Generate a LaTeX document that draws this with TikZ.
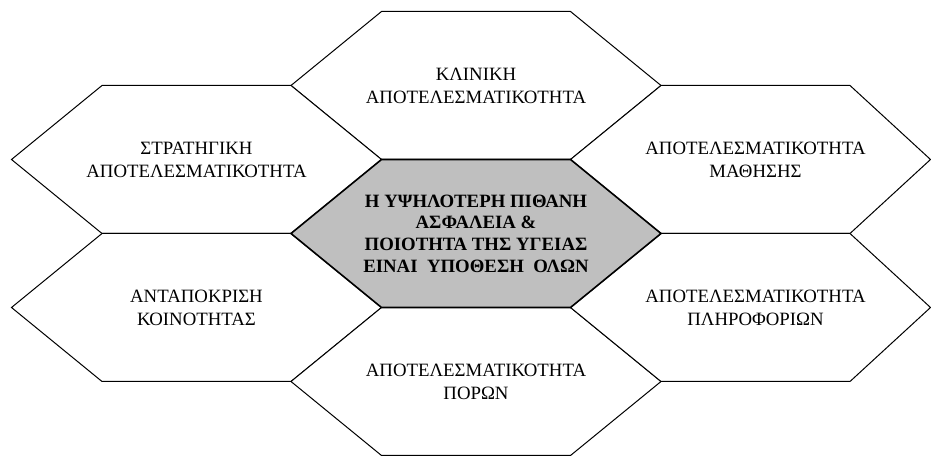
\documentclass[tikz,border=0pt]{standalone}
\usepackage{fontspec}
\setmainfont{Liberation Serif}
\usetikzlibrary{positioning, backgrounds}

\tikzset{
  pics/hex/.style={code={
    \path[pic actions] (-185pt,0) -- (-94.5pt,74pt) -- (94.5pt,74pt) -- (#1,0)
      -- (94.5pt,-74pt) -- (-94.5pt,-74pt) -- cycle;}}}

\begin{document}
\begin{tikzpicture}[
  font=\fontsize{18.8}{23}\selectfont,
  txt/.style={align=center, inner sep=0pt},
  cell/.style={draw, line width=1pt, fill=white},
  core/.style={draw, line width=1.6pt, fill=black!25},
  node distance=74pt and 279.5pt, on grid]
  \useasboundingbox (0,0) rectangle (931pt,457pt);
  \node[txt, font=\fontsize{18.8}{21.7}\selectfont\bfseries] (core) at (476pt,223.5pt)
    {Η ΥΨΗΛΟΤΕΡΗ ΠΙΘΑΝΗ\\ΑΣΦΑΛΕΙΑ \&\\ΠΟΙΟΤΗΤΑ ΤΗΣ ΥΓΕΙΑΣ\\ΕΙΝΑΙ\ \ ΥΠΟΘΕΣΗ\ \ ΟΛΩΝ};
  \node[txt, above=148pt of core] (klin)  {ΚΛΙΝΙΚΗ\\ΑΠΟΤΕΛΕΣΜΑΤΙΚΟΤΗΤΑ};
  \node[txt, above left=of core]  (strat) {ΣΤΡΑΤΗΓΙΚΗ\\ΑΠΟΤΕΛΕΣΜΑΤΙΚΟΤΗΤΑ};
  \node[txt, above right=of core] (math)  {ΑΠΟΤΕΛΕΣΜΑΤΙΚΟΤΗΤΑ\\ΜΑΘΗΣΗΣ};
  \node[txt, below left=of core]  (antap) {ΑΝΤΑΠΟΚΡΙΣΗ\\ΚΟΙΝΟΤΗΤΑΣ};
  \node[txt, below right=of core] (plir)  {ΑΠΟΤΕΛΕΣΜΑΤΙΚΟΤΗΤΑ\\ΠΛΗΡΟΦΟΡΙΩΝ};
  \node[txt, below=148pt of core] (poron) {ΑΠΟΤΕΛΕΣΜΑΤΙΚΟΤΗΤΑ\\ΠΟΡΩΝ};
  % honeycomb cells behind the texts
  \begin{scope}[on background layer]
    \foreach \n in {klin, strat, antap, poron}
      \pic[cell] at (\n.center) {hex=185pt};
    \foreach \n in {math, plir}
      \pic[cell] at (\n.center) {hex=175pt};
    \pic[core] at (core.center) {hex=185pt};
  \end{scope}
\end{tikzpicture}
\end{document}
